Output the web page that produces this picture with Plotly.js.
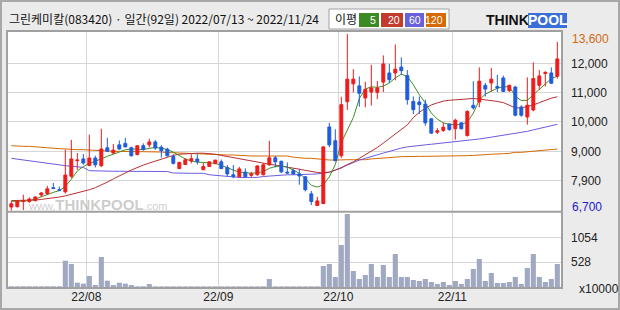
<!DOCTYPE html>
<html><head><meta charset="utf-8">
<script src="https://cdn.plot.ly/plotly-3.0.1.min.js"></script>
<style>html,body{margin:0;padding:0;background:#ebebeb;}#c{width:620px;height:310px;}</style>
</head><body><div id="c"></div>
<script>
const dates = ['2022-07-13','2022-07-14','2022-07-15','2022-07-18','2022-07-19','2022-07-20','2022-07-21','2022-07-22','2022-07-25','2022-07-26','2022-07-27','2022-07-28','2022-07-29',
'2022-08-01','2022-08-02','2022-08-03','2022-08-04','2022-08-05','2022-08-08','2022-08-09','2022-08-10','2022-08-11','2022-08-12','2022-08-16','2022-08-17','2022-08-18','2022-08-19','2022-08-22','2022-08-23','2022-08-24','2022-08-25','2022-08-26','2022-08-29','2022-08-30','2022-08-31',
'2022-09-01','2022-09-02','2022-09-05','2022-09-06','2022-09-07','2022-09-08','2022-09-13','2022-09-14','2022-09-15','2022-09-16','2022-09-19','2022-09-20','2022-09-21','2022-09-22','2022-09-23','2022-09-26','2022-09-27','2022-09-28','2022-09-29','2022-09-30',
'2022-10-04','2022-10-05','2022-10-06','2022-10-07','2022-10-11','2022-10-12','2022-10-13','2022-10-14','2022-10-17','2022-10-18','2022-10-19','2022-10-20','2022-10-21','2022-10-24','2022-10-25','2022-10-26','2022-10-27','2022-10-28','2022-10-31',
'2022-11-01','2022-11-02','2022-11-03','2022-11-04','2022-11-07','2022-11-08','2022-11-09','2022-11-10','2022-11-11','2022-11-14','2022-11-15','2022-11-16','2022-11-17','2022-11-18','2022-11-21','2022-11-22','2022-11-23','2022-11-24'];

const open  = [7100,7110,7290,7290,7320,7510,7560,7760,7690,7620,8150,8680,8740,8520,8770,8510,9120,8940,9220,9270,9120,8890,9190,9220,9320,9140,9070,8820,8410,8550,8670,8740,8370,8480,8580,8640,8450,8200,8130,8290,8180,8200,8200,8540,8780,8660,8290,8340,8230,8130,7550,7150,7220,9830,9360,8850,10690,11300,11230,10820,11020,11010,11360,11670,11670,11870,11580,10700,10680,10610,10110,9650,9710,9930,9770,9970,9540,10570,10680,11250,11330,11210,11500,11070,11190,10510,10170,10410,11250,11650,11670,11560];
const high  = [7300,7340,7520,7430,7470,7610,7820,7920,7800,9060,9390,8940,8910,9570,8850,9770,9460,9250,9370,9460,9160,9200,9270,9430,9380,9210,9120,8900,8650,8760,8900,8900,8600,8660,8710,8720,8530,8530,8470,8420,8300,8530,8590,9360,8840,8680,8620,8410,8400,8160,7650,7450,9170,9970,9750,10860,13000,11800,11550,11370,11950,11400,12270,11980,12640,12200,11770,10870,10870,10760,10110,9790,9970,9950,10110,9990,10400,11390,11860,11330,11840,11610,11580,11270,11230,10570,11520,12030,11770,11730,11860,12730];
const low   = [6980,7090,7000,7240,7290,7440,7520,7720,7640,7560,8090,8370,8540,8490,8450,8460,8980,8920,9050,9140,8820,8860,9020,9130,9050,8780,8820,8550,8400,8530,8590,8550,8360,8470,8560,8400,8140,8080,8110,8110,8130,8170,8180,8500,8450,8260,8240,8200,7860,7630,7170,7150,7200,9140,8660,8770,10410,11010,10520,10500,10560,10780,11020,11330,11420,11610,10590,10270,10270,9870,9590,9590,9660,9700,9400,9740,9500,10420,10500,10870,11040,11020,11020,11020,10190,10180,9910,10360,11100,11210,11290,11480];
const close = [7210,7300,7320,7370,7440,7580,7720,7730,7670,8190,8740,8700,8600,8770,8540,9080,9000,9040,9080,9150,8850,9190,9060,9320,9110,9020,8850,8590,8620,8710,8750,8650,8480,8640,8700,8410,8230,8140,8400,8130,8230,8500,8540,8780,8640,8300,8260,8230,8160,7690,7290,7310,9150,9220,8680,10590,11460,11460,10980,11110,11160,11160,11980,11440,11800,11750,10760,10420,10590,9970,9620,9700,9820,9740,10060,9770,10360,10480,11390,11120,11460,11160,11040,11250,10230,10230,10570,11480,11570,11690,11320,12150];
const volume = [22,22,22,22,22,22,22,22,22,561,491,98,77,238,49,639,140,49,98,77,49,20,20,70,20,20,20,20,20,20,20,20,20,20,20,20,20,20,20,20,20,20,20,175,20,20,20,20,20,20,20,20,449,491,217,892,1545,344,175,259,491,217,470,217,702,217,217,154,133,175,112,70,112,49,133,70,175,386,597,133,301,91,91,112,217,70,407,702,217,112,175,491];
const ma5   = [7294,7294,7300,7320,7370,7450,7530,7600,7660,7800,8050,8330,8480,8590,8660,8750,8830,8900,8980,9050,9080,9080,9060,9100,9130,9110,9060,8970,8850,8740,8670,8630,8620,8610,8590,8520,8430,8360,8290,8260,8250,8270,8310,8420,8480,8500,8460,8360,8250,8070,7840,7780,7860,8130,8550,9300,9750,10150,10800,11120,11200,11180,11220,11330,11500,11630,11550,11270,10930,10650,10300,10100,9970,9920,9910,9910,10000,10300,10750,10950,11050,11150,11200,11200,10880,10730,10740,10930,11100,11320,11480,11560];
const ma20  = [7320,7320,7320,7330,7340,7360,7380,7410,7440,7480,7530,7570,7620,7690,7760,7850,7950,8060,8170,8260,8360,8450,8530,8600,8670,8740,8800,8860,8900,8920,8930,8935,8935,8930,8900,8860,8820,8780,8740,8710,8670,8630,8590,8560,8530,8500,8470,8430,8390,8350,8310,8280,8260,8290,8360,8430,8550,8640,8760,8880,9000,9130,9280,9430,9580,9740,9900,10150,10330,10470,10580,10650,10710,10740,10760,10780,10790,10800,10780,10760,10730,10700,10660,10560,10480,10480,10520,10580,10660,10740,10810,10860];
const ma60  = [8760,8730,8700,8680,8650,8610,8590,8560,8540,8510,8490,8470,8450,8340,8330,8330,8320,8320,8320,8320,8320,8310,8310,8310,8310,8310,8310,8260,8250,8250,8250,8250,8250,8200,8180,8150,8130,8120,8110,8110,8110,8110,8140,8160,8180,8200,8200,8200,8200,8210,8220,8230,8260,8290,8360,8450,8530,8620,8700,8760,8830,8880,8940,9000,9060,9110,9150,9180,9200,9220,9240,9260,9280,9300,9320,9340,9370,9390,9420,9450,9480,9510,9540,9570,9600,9640,9680,9730,9780,9830,9880,9920];
const ma120 = [9190,9169,9169,9169,9150,9135,9120,9090,9090,9080,9056,9056,9056,9040,9022,9022,9010,8999,8999,8999,8999,8990,8990,8976,8976,8976,8960,8950,8940,8930,8920,8910,8908,8908,8890,8874,8874,8874,8860,8840,8840,8840,8840,8840,8840,8840,8840,8800,8770,8760,8760,8740,8710,8703,8700,8714,8714,8714,8714,8714,8740,8760,8783,8790,8800,8817,8828,8828,8828,8828,8828,8828,8828,8828,8835,8840,8851,8860,8885,8885,8900,8919,8919,8930,8965,8965,8985,8999,9010,9033,9050,9078];

const monthTickPos = [12.5, 34.5, 54.5, 73.5];
const monthLabels = ['22/08','22/09','22/10','22/11'];
const priceTicks = [12000, 11000, 10000, 9000, 8000];
const priceLabels = ['12,000','11,000','10,000','9,000','7,900'];
const volTicks = [528, 1054];
const volLabels = ['528','1054'];
const maxLabel = '13,600', minLabel = '6,700';
const titleText = '그린케미칼(083420) · 일간(92일) 2022/07/13 ~ 2022/11/24';
const maNames = ['5','20','60','120'];

const idx = dates.map((d, i) => i);
const px = X => (X - 7) / 555;
const py = Y => (288 - Y) / 257;
const FONT = 'Liberation Sans, Arial, sans-serif';
const KFONT = 'Noto Sans CJK KR, sans-serif';

const line = (y, color) => ({type:'scatter', mode:'lines', x: idx, y: y, xaxis:'x', yaxis:'y', line:{color: color, width:1}, hoverinfo:'skip'});

const traces = [
  {type:'bar', x: idx, y: volume, xaxis:'x', yaxis:'y2', marker:{color:'#a0a9c1'}, hoverinfo:'skip'},
  line(ma120, '#d46a00'),
  line(ma60, '#6a5ce0'),
  line(ma20, '#b83030'),
  line(ma5, '#3f8f1f'),
  {type:'candlestick', x: idx, open: open, high: high, low: low, close: close, xaxis:'x', yaxis:'y3',
   increasing:{line:{color:'#f01a1a', width:1}, fillcolor:'#f01a1a'},
   decreasing:{line:{color:'#1f5cdc', width:1}, fillcolor:'#1f5cdc'},
   whiskerwidth:0, hoverinfo:'skip'}
];

const yr = [6941, 13101];
const legendBoxes = [
  {x0:359, x1:379, color:'#3d8a25'},
  {x0:381, x1:403, color:'#c23b2c'},
  {x0:405, x1:424, color:'#6a60d8'},
  {x0:426, x1:446, color:'#d46a00'}
];

const shapes = [
  {type:'rect', xref:'paper', yref:'paper', x0:px(1), x1:px(619), y0:py(309), y1:py(1), line:{color:'#a8a8a8', width:2}, layer:'below'},
  {type:'rect', xref:'paper', yref:'paper', x0:0, x1:1, y0:0, y1:1, line:{color:'#a0a0a0', width:2}},
  {type:'line', xref:'paper', yref:'paper', x0:0, x1:1, y0:py(211.7), y1:py(211.7), line:{color:'#a0a0a0', width:2}},
  {type:'rect', xref:'paper', yref:'paper', x0:px(329), x1:px(449), y0:py(29), y1:py(9), fillcolor:'#ffffff', line:{color:'#a0a0a0', width:1}},
  {type:'rect', xref:'paper', yref:'paper', x0:px(528), x1:px(567), y0:py(28), y1:py(13), fillcolor:'#3a6fd8', line:{width:0}}
];
const annotations = [
  {xref:'paper', yref:'paper', x:px(7), y:py(19), xanchor:'left', yanchor:'middle', showarrow:false, text:titleText, font:{family:KFONT, size:12, color:'#111'}},
  {xref:'paper', yref:'paper', x:px(333), y:py(19), xanchor:'left', yanchor:'middle', showarrow:false, text:'이평', font:{family:KFONT, size:12, color:'#111'}},
  {xref:'paper', yref:'paper', x:px(484), y:py(20.5), xanchor:'left', yanchor:'middle', showarrow:false, text:'<b>THINK</b>', font:{family:FONT, size:14, color:'#111'}},
  {xref:'paper', yref:'paper', x:px(547.5), y:py(20.5), xanchor:'center', yanchor:'middle', showarrow:false, text:'<b>POOL</b>', font:{family:FONT, size:14, color:'#ffffff'}},
  {xref:'paper', yref:'paper', x:px(26), y:py(204), xanchor:'left', yanchor:'middle', showarrow:false,
   text:'<span style="font-size:11px">www.</span><b>THINKPOOL</b><span style="font-size:11px">.com</span>', font:{family:FONT, size:15, color:'rgba(170,170,170,0.6)'}},
  {xref:'paper', yref:'paper', x:px(570), y:py(39), xanchor:'left', yanchor:'middle', showarrow:false, text:maxLabel, font:{family:FONT, size:12, color:'#d06a10'}},
  {xref:'paper', yref:'paper', x:px(570), y:py(207), xanchor:'left', yanchor:'middle', showarrow:false, text:minLabel, font:{family:FONT, size:12, color:'#1a1ad0'}},
  {xref:'paper', yref:'paper', x:px(577), y:py(289), xanchor:'left', yanchor:'middle', showarrow:false, text:'x10000', font:{family:FONT, size:12, color:'#222'}}
];
legendBoxes.forEach((b, k) => {
  shapes.push({type:'rect', xref:'paper', yref:'paper', x0:px(b.x0), x1:px(b.x1), y0:py(27), y1:py(13), fillcolor:b.color, line:{width:0}});
  annotations.push({xref:'paper', yref:'paper', x:px(b.x1 - 1), y:py(20), xanchor:'right', yanchor:'middle', showarrow:false, text:maNames[k], font:{family:FONT, size:10.5, color:'#ffffff'}});
});

const layout = {
  width:620, height:310,
  margin:{l:7, r:58, t:31, b:22, pad:0},
  paper_bgcolor:'#ebebeb', plot_bgcolor:'#ffffff',
  showlegend:false, boxgap:0.3, bargap:0.15,
  xaxis:{range:[-0.72, 91.78], anchor:'y2', tickmode:'array', tickvals:monthTickPos, ticktext:monthLabels,
         showgrid:true, gridcolor:'#d6d6d6', gridwidth:1, zeroline:false, ticks:'', showline:false,
         tickfont:{family:FONT, size:12, color:'#222'}, rangeslider:{visible:false}, fixedrange:true},
  yaxis:{domain:[py(211.7), 1], range:yr, side:'right', tickmode:'array', tickvals:priceTicks, ticktext:priceLabels,
         showgrid:true, gridcolor:'#d6d6d6', gridwidth:1, zeroline:false, ticks:'', ticklabelstandoff:8,
         tickfont:{family:FONT, size:12, color:'#222'}},
  yaxis2:{domain:[0, py(211.7)], range:[-15, 1594], side:'right', tickmode:'array', tickvals:volTicks, ticktext:volLabels,
         showgrid:true, gridcolor:'#d6d6d6', gridwidth:1, zeroline:false, ticks:'', ticklabelstandoff:8,
         tickfont:{family:FONT, size:12, color:'#222'}},
  yaxis3:{overlaying:'y', range:yr, side:'right', showticklabels:false, showgrid:false, zeroline:false},
  shapes:shapes, annotations:annotations
};
Plotly.newPlot('c', traces, layout, {staticPlot:true, displayModeBar:false});
</script></body></html>
